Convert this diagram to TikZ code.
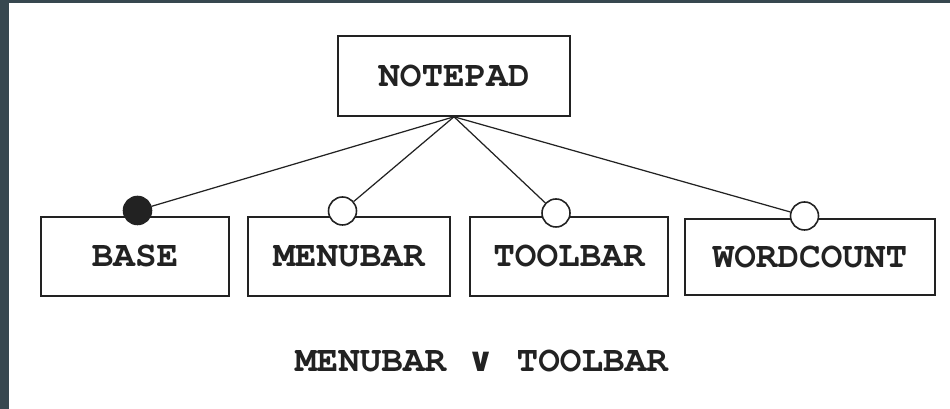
\documentclass[tikz,border=0pt]{standalone}
\usepackage[T1]{fontenc}
\usepackage{fontspec}
\usepackage{tikz}
\usepackage{xcolor}
\newfontfamily\symfont{DejaVu Sans}
\newcommand{\courierbold}{\fontencoding{T1}\fontfamily{pcr}\fontseries{b}\fontsize{20.5}{24}\selectfont}
\definecolor{frame}{HTML}{37474F}
\definecolor{ink}{HTML}{222222}

\begin{document}
\begin{tikzpicture}[
        feature/.style={draw=ink, line width=0.9pt, fill=white, minimum width=#1, minimum height=1.58cm,
            inner sep=0pt, text=ink, font=\courierbold},
        feature/.default=4cm,
        mandatory/.style={circle, draw=ink, fill=ink, line width=0.9pt, minimum size=0.56cm, inner sep=0pt},
        optional/.style={circle, draw=ink, fill=white, line width=0.9pt, minimum size=0.56cm, inner sep=0pt},
        link/.style={draw=ink, line width=0.7pt}
    ]
        \fill [frame] (0.0, 0.0) rectangle (19.0, 8.18); % dark frame
        \fill [white] (0.18, 0.0) rectangle (19.0, 8.12); % page

        \node [feature=4.64cm, minimum height=1.6cm] (notepad) at (9.08, 6.66) {NOTEPAD};

        \node [feature=3.76cm] (base) at (2.70, 3.05) {BASE};
        \node [feature=4.04cm] (menubar) at (6.98, 3.05) {MENUBAR};
        \node [feature=3.96cm] (toolbar) at (11.38, 3.05) {TOOLBAR};
        \node [feature=5.0cm, minimum height=1.52cm] (wordcount) at (16.2, 3.04) {WORDCOUNT};

        \node [mandatory] (base-dot) at (2.75, 3.97) {};
        \node [optional] (menubar-dot) at (6.85, 3.96) {};
        \node [optional] (toolbar-dot) at (11.12, 3.92) {};
        \node [optional] (wordcount-dot) at (16.09, 3.86) {};

        \draw [link] (notepad.south) -- (base-dot);
        \draw [link] (notepad.south) -- (menubar-dot);
        \draw [link] (notepad.south) -- (toolbar-dot);
        \draw [link] (notepad.south) -- (wordcount-dot);

        % constraint
        \node [text=ink, font=\courierbold] (rule) at (9.63, 0.95)
            {MENUBAR {\symfont\bfseries\fontsize{19}{22}\selectfont ∨} TOOLBAR};
    \end{tikzpicture}
\end{document}
